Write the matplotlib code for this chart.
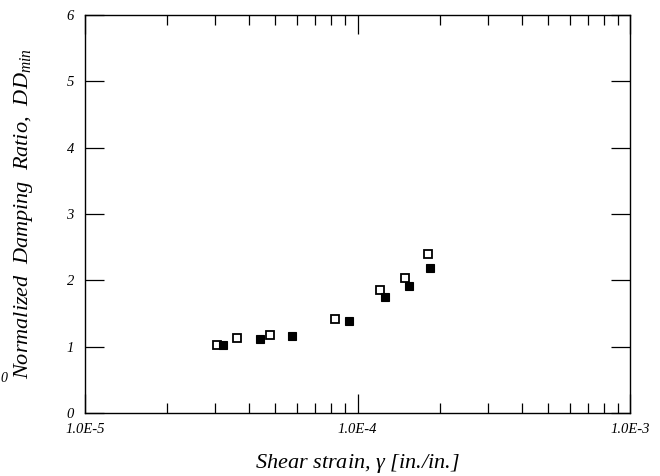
import matplotlib
matplotlib.use("Agg")
import matplotlib.pyplot as plt
import matplotlib.ticker as mticker

plt.rcParams["font.family"] = ["Liberation Serif", "DejaVu Serif"]
plt.rcParams["mathtext.fontset"] = "custom"
plt.rcParams["mathtext.it"] = "Liberation Serif:italic"
plt.rcParams["mathtext.rm"] = "Liberation Serif"

# open squares
strain_open = [3.05e-5, 3.6e-5, 4.76e-5, 8.3e-5, 1.21e-4, 1.49e-4, 1.81e-4]
ratio_open = [1.03, 1.13, 1.18, 1.41, 1.85, 2.03, 2.39]
# filled squares
strain_fill = [3.21e-5, 4.39e-5, 5.75e-5, 9.3e-5, 1.26e-4, 1.54e-4, 1.85e-4]
ratio_fill = [1.03, 1.11, 1.16, 1.38, 1.75, 1.92, 2.19]

x_ticks = [1e-5, 1e-4, 1e-3]
x_tick_labels = ["1.0E-5", "1.0E-4", "1.0E-3"]
y_ticks = [0, 1, 2, 3, 4, 5, 6]

fig = plt.figure(figsize=(6.6, 4.76), dpi=100)
ax = fig.add_axes([85 / 660, 63 / 476, 545 / 660, 398 / 476])

ax.plot(strain_open, ratio_open, "s", ms=5.6, mfc="white", mec="black", mew=1.3, ls="none")
ax.plot(strain_fill, ratio_fill, "s", ms=5.8, mfc="black", mec="black", mew=0.8, ls="none")

ax.set_xscale("log")
ax.set_xlim(1e-5, 1e-3)
ax.set_ylim(0, 6)
ax.set_xticks(x_ticks)
ax.set_xticklabels(x_tick_labels)
ax.xaxis.set_minor_locator(mticker.LogLocator(base=10, subs=range(2, 10)))
ax.xaxis.set_minor_formatter(mticker.NullFormatter())
ax.set_yticks(y_ticks)
ax.set_yticklabels([str(v) for v in y_ticks])

ax.tick_params(axis="both", which="major", direction="in", length=14, width=0.9,
               top=True, right=True, labelsize=10.5)
ax.tick_params(axis="x", which="minor", direction="in", length=7, width=0.9, top=True)
ax.tick_params(axis="x", which="major", pad=7)
ax.tick_params(axis="y", which="major", pad=8)
for lab in ax.get_xticklabels() + ax.get_yticklabels():
    lab.set_fontstyle("italic")

for sp in ax.spines.values():
    sp.set_linewidth(1.0)

ax.set_xlabel(r"Shear strain, $\gamma$ [in./in.]", fontsize=16, fontstyle="italic", labelpad=12)
ax.set_ylabel(r"Normalized  Damping  Ratio,  $DD_{min}$", fontsize=16, fontstyle="italic", labelpad=23)

# stray label at left edge
fig.text(0.0, 98 / 476, "0", fontsize=10, fontstyle="italic", ha="left", va="center")

fig.savefig("out.png", dpi=100, facecolor="white")
